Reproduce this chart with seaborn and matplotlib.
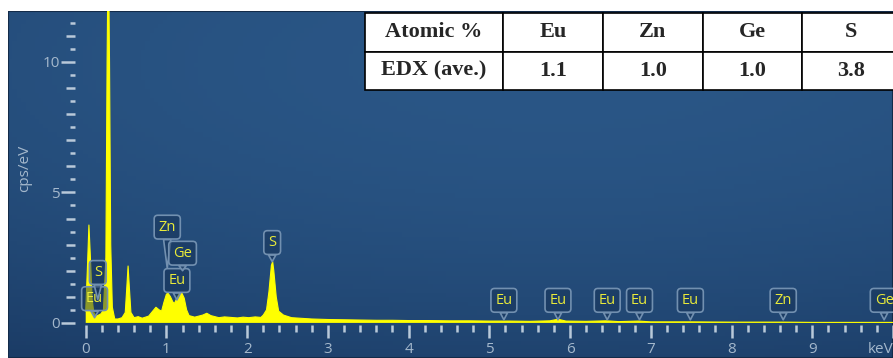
import numpy as np
import seaborn as sns
import matplotlib.pyplot as plt
from matplotlib.ticker import MultipleLocator, FuncFormatter
from matplotlib.colors import LinearSegmentedColormap
from matplotlib.patches import Rectangle

# EDX spectrum (keV, cps/eV)
energy = [0.00, 0.02, 0.04, 0.06, 0.08, 0.10, 0.13, 0.16, 0.19, 0.22,
          0.25, 0.265, 0.28, 0.295, 0.31, 0.33, 0.36, 0.40, 0.45, 0.49,
          0.51, 0.525, 0.54, 0.56, 0.60, 0.65, 0.70, 0.74, 0.78, 0.83,
          0.87, 0.91, 0.94, 0.97, 1.00, 1.02, 1.05, 1.08, 1.10, 1.13,
          1.16, 1.19, 1.22, 1.25, 1.28, 1.35, 1.40, 1.45, 1.50, 1.55,
          1.65, 1.72, 1.80, 1.88, 1.95, 2.02, 2.10, 2.17, 2.20, 2.24,
          2.27, 2.30, 2.316, 2.33, 2.36, 2.39, 2.45, 2.55, 2.70, 2.80,
          3.00, 3.20, 3.40, 3.60, 3.80, 4.00, 4.25, 4.50, 4.75, 5.00,
          5.25, 5.50, 5.75, 5.85, 5.95, 6.20, 6.45, 6.60, 6.85, 7.00,
          7.50, 8.00, 8.65, 9.00, 10.0]
counts = [0.45, 2.00, 3.75, 2.40, 0.90, 0.40, 0.25, 0.30, 0.35, 0.50,
          2.50, 10.0, 15.0, 10.0, 3.00, 0.60, 0.15, 0.15, 0.20, 0.40,
          1.40, 2.18, 1.40, 0.40, 0.20, 0.24, 0.18, 0.22, 0.26, 0.45,
          0.60, 0.50, 0.45, 0.80, 1.10, 1.14, 1.00, 0.80, 0.75, 0.95,
          1.12, 1.15, 0.95, 0.50, 0.28, 0.22, 0.26, 0.30, 0.37, 0.28,
          0.20, 0.23, 0.21, 0.19, 0.22, 0.20, 0.23, 0.21, 0.30, 0.50,
          1.20, 2.20, 2.35, 2.00, 1.00, 0.45, 0.30, 0.20, 0.17, 0.15,
          0.13, 0.12, 0.11, 0.10, 0.10, 0.09, 0.09, 0.08, 0.08, 0.07,
          0.07, 0.06, 0.08, 0.14, 0.07, 0.06, 0.08, 0.05, 0.07, 0.04,
          0.04, 0.03, 0.03, 0.02, 0.02]

# element markers
peak_names = ["Eu", "S", "Zn", "Eu", "Ge", "S",
              "Eu", "Eu", "Eu", "Eu", "Eu", "Zn", "Ge"]
peak_kev = [0.11, 0.15, 1.01, 1.13, 1.20, 2.31,
            5.18, 5.85, 6.46, 6.86, 7.49, 8.64, 9.89]
# where each callout points (cps/eV) and how high its box sits (points)
tip_y = [0.2, 0.9, 2.1, 0.88, 2.0, 2.35,
         0.12, 0.12, 0.12, 0.12, 0.12, 0.12, 0.12]
rise = [13.7, 19.4, 29.5, 14.0, 12.6, 13.7,
        14.0, 14.0, 14.0, 14.0, 14.0, 14.0, 14.0]

# composition table
table_cols = ["Atomic %", "Eu", "Zn", "Ge", "S"]
table_row = "EDX (ave.)"
edx_values = [1.1, 1.0, 1.0, 3.8]

W, H = 893, 358
sns.set_style("dark")
plt.rcParams["font.family"] = ["Open Sans", "DejaVu Sans"]

fig = plt.figure(figsize=(W / 100, H / 100), dpi=100, facecolor="white")

# blue panel with a soft glow
bg = fig.add_axes([8 / W, 0, (W - 8) / W, (H - 11) / H])
bg.set_axis_off()
gx, gy = np.meshgrid(np.linspace(0, 1, 200), np.linspace(0, 1, 80))
shade = 1 - 0.9 * (gx - 0.62) ** 2 - 1.3 * (gy - 0.15) ** 2
panel_cmap = LinearSegmentedColormap.from_list("panel", ["#1b3c66", "#2a5686"])
bg.imshow(shade, cmap=panel_cmap, aspect="auto", origin="upper", extent=(0, 1, 0, 1))
bg.set_xlim(0, 1)
bg.set_ylim(0, 1)
bg.add_patch(Rectangle((0, 0), 1, 1, transform=bg.transAxes, fill=False,
                       ec="#132b49", lw=1.5))

ax = fig.add_axes([75 / W, (H - 325) / H, 818 / W, 314 / H])
ax.set_facecolor("none")
ax.grid(False)
for s in ax.spines.values():
    s.set_visible(False)

ax.fill_between(energy, counts, 0, color="#ffff00", lw=0)
sns.lineplot(x=energy, y=counts, ax=ax, color="#ffff00", lw=0.8, estimator=None)

box_fc = (0.09, 0.2, 0.34, 0.5)
box_ec = "#7290b0"
for name, kev, ty, r in zip(peak_names, peak_kev, tip_y, rise):
    ax.annotate(name, xy=(kev, ty), xytext=(0, r), textcoords="offset points",
                ha="center", va="center", fontsize=10.5, color="#e8ea3a",
                bbox=dict(boxstyle="round,pad=0.3,rounding_size=0.25",
                          fc=box_fc, ec=box_ec, lw=1.2),
                arrowprops=dict(arrowstyle="wedge,tail_width=0.5,shrink_factor=0.5",
                                fc=box_fc, ec=box_ec, lw=1.2, shrinkA=0, shrinkB=0),
                annotation_clip=False, zorder=5)

ax.set_xlim(-0.1325, 10.0)
ax.set_ylim(-0.08, 11.95)
ax.set_xlabel("")
ax.xaxis.set_major_locator(MultipleLocator(1))
ax.xaxis.set_minor_locator(MultipleLocator(0.2))
ax.xaxis.set_major_formatter(FuncFormatter(lambda v, p: "keV" if round(v) == 10 else f"{v:.0f}"))
ax.yaxis.set_major_locator(MultipleLocator(1))
ax.yaxis.set_minor_locator(MultipleLocator(0.5))
ax.yaxis.set_major_formatter(FuncFormatter(lambda v, p: f"{v:.0f}" if round(v) % 5 == 0 else ""))

tick_c = "#b9c9d9"
lab_c = "#a4b8cc"
ax.tick_params(axis="x", which="major", bottom=True, direction="out", length=9.5,
               width=1.8, color=tick_c, labelcolor=lab_c, labelsize=11, pad=3)
ax.tick_params(axis="x", which="minor", bottom=True, direction="out", length=5,
               width=1.8, color=tick_c)
ax.tick_params(axis="y", which="major", left=True, direction="out", length=6.5,
               width=1.8, color=tick_c, labelcolor=lab_c, labelsize=11, pad=4.5)
ax.tick_params(axis="y", which="minor", left=True, direction="out", length=3.6,
               width=1.8, color=tick_c)
for t, loc in zip(ax.yaxis.get_major_ticks(), ax.yaxis.get_majorticklocs()):
    if round(loc) % 5 == 0:
        t.tick1line.set_markersize(10)
# keep the unit label on the right edge inside the picture
for t, loc in zip(ax.xaxis.get_major_ticks(), ax.xaxis.get_majorticklocs()):
    if round(loc) == 10:
        t.label1.set_horizontalalignment("right")

ax.set_ylabel("cps/eV", color=lab_c, fontsize=11)
ax.yaxis.set_label_coords(-0.052, 0.5)

# composition table, top right
tab_ax = fig.add_axes([365 / W, (H - 90) / H, 536 / W, 77 / H])
tab_ax.set_axis_off()
cells = [table_cols, [table_row] + [f"{v:.1f}" for v in edx_values]]
tbl = tab_ax.table(cellText=cells, colWidths=[138, 100, 100, 99, 99],
                   bbox=[0, 0, 1, 1], cellLoc="center")
tbl.auto_set_font_size(False)
for (r, c), cell in tbl.get_celld().items():
    cell.set_edgecolor("black")
    cell.set_linewidth(1.2)
    cell.set_facecolor("white")
    cell.get_text().set_fontfamily("Liberation Serif")
    cell.get_text().set_fontweight("bold")
    cell.get_text().set_fontsize(16)

fig.savefig("out.png", dpi=100)
